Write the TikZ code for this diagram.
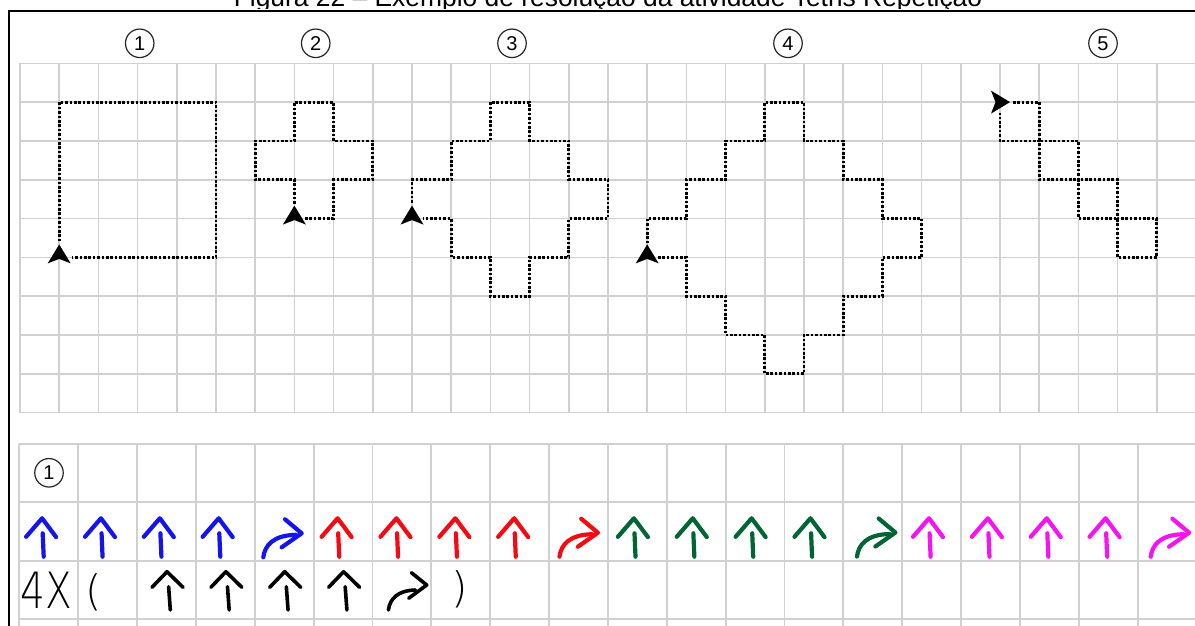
\documentclass[tikz,border=0pt]{standalone}
\usepackage{fontspec}
\setmainfont{Liberation Sans}
\newfontfamily\handfont{DejaVu Sans ExtraLight}
\definecolor{gridgray}{RGB}{208,208,208}
\definecolor{penblue}{RGB}{20,20,238}
\definecolor{penred}{RGB}{245,10,20}
\definecolor{pengreen}{RGB}{0,100,52}
\definecolor{penmag}{RGB}{245,20,240}
\tikzset{
  gridline/.style={draw=gridgray, line width=1.5pt},
  tabline/.style={draw=gridgray, line width=1.8pt},
  dotline/.style={draw=black, line width=2.8pt, dash pattern=on 2.6pt off 1.8pt},
  numcirc/.style={circle, draw=black!85, line width=1.2pt, minimum size=28.5pt,
    inner sep=0pt, font=\fontsize{20}{20}\selectfont},
  handstroke/.style={line width=4.2pt, line cap=round, line join=round},
  blkstroke/.style={line width=3.6pt, line cap=round, line join=round},
  navarrow/.pic={\fill[x=1pt,y=-1pt] (0,-13) -- (11.5,6) -- (0,1.5) -- (-11.5,6) -- cycle;},
  upcol/.pic={\begin{scope}[x=1pt,y=-1pt]
      \draw[handstroke] (-16,18.5) -- (0,0) -- (14,18.8);
      \draw[handstroke] (0.6,15) -- (1.6,38.4);
    \end{scope}},
  upblk/.pic={\begin{scope}[x=1pt,y=-1pt]
      \draw[blkstroke] (-15,15.6) -- (0,0) -- (16,15.6);
      \draw[blkstroke] (1.6,15) -- (3.3,38.3);
    \end{scope}},
  turncol/.pic={\begin{scope}[x=1pt,y=-1pt]
      \draw[handstroke] (0,0) .. controls (1.5,-12) and (10,-22) .. (32.5,-22.5);
      \draw[handstroke] (21.7,-38) -- (38.4,-24) -- (18.4,-10);
    \end{scope}},
  turnblk/.pic={\begin{scope}[x=1pt,y=-1pt]
      \draw[blkstroke] (0,0) .. controls (1.5,-11) and (9,-19.5) .. (27,-20);
      \draw[blkstroke] (23,-37.3) -- (38.3,-25) -- (20.3,-11.7);
    \end{scope}}
}
\begin{document}
\begin{tikzpicture}[x=1pt,y=-1pt]
\useasboundingbox (0,0) rectangle (1195,626);
\clip (0,0) rectangle (1195,626);
\fill[white] (0,0) rectangle (1195,626);

% title (cut at the top)
\begin{scope}
  \clip (0,0) rectangle (1195,9);
  \node[anchor=base, inner sep=0pt, font=\fontsize{26.4}{26.4}\selectfont] (title) at (608,7)
    {Figura 22 – Exemplo de resolução da atividade Tetris Repetição};
\end{scope}

% frame
\draw[line width=2.4pt] (8.7,640) -- (8.7,10.8) -- (1200,10.8);

% circled numbers
\node[numcirc] (c1) at (139.7,43.3) {1};
\node[numcirc] (c2) at (315.7,43.3) {2};
\node[numcirc] (c3) at (512,43.3) {3};
\node[numcirc] (c4) at (788,43.3) {4};
\node[numcirc] (c5) at (1103,43.3) {5};

% top grid and figures
\begin{scope}[shift={(20,63.3)}, x=39.2pt, y=-38.82pt]
  \foreach \c in {0,...,30} \draw[gridline] (\c,0) -- (\c,9);
  \foreach \r in {0,...,9} \draw[gridline] (0,\r) -- (30.5,\r);
  % figure 1
  \draw[dotline, shorten <=16pt, shorten >=13pt]
    (1,5) -- (1,1) -- (5,1) -- (5,5) -- (1,5);
  % figure 2
  \draw[dotline, shorten <=15pt, shorten >=9pt]
    (7,4) -- (7,3) -- (6,3) -- (6,2) -- (7,2) -- (7,1) -- (8,1) -- (8,2) -- (9,2)
    -- (9,3) -- (8,3) -- (8,4) -- (7,4);
  % figure 3
  \draw[dotline, shorten <=16pt, shorten >=11pt]
    (10,4) -- (10,3) -- (11,3) -- (11,2) -- (12,2) -- (12,1) -- (13,1) -- (13,2)
    -- (14,2) -- (14,3) -- (15,3) -- (15,4) -- (14,4) -- (14,5) -- (13,5) -- (13,6)
    -- (12,6) -- (12,5) -- (11,5) -- (11,4) -- (10,4);
  % figure 4
  \draw[dotline, shorten <=14pt, shorten >=10pt]
    (16,5) -- (16,4) -- (17,4) -- (17,3) -- (18,3) -- (18,2) -- (19,2) -- (19,1)
    -- (20,1) -- (20,2) -- (21,2) -- (21,3) -- (22,3) -- (22,4) -- (23,4) -- (23,5)
    -- (22,5) -- (22,6) -- (21,6) -- (21,7) -- (20,7) -- (20,8) -- (19,8) -- (19,7)
    -- (18,7) -- (18,6) -- (17,6) -- (17,5) -- (16,5);
  % figure 5
  \draw[dotline, shorten <=13pt, shorten >=11pt]
    (25,1) -- (26,1) -- (26,2) -- (27,2) -- (27,3) -- (28,3) -- (28,4) -- (29,4)
    -- (29,5) -- (28,5) -- (28,4) -- (27,4) -- (27,3) -- (26,3) -- (26,2) -- (25,2)
    -- (25,1);
  % start markers
  \pic at (1,5) {navarrow};
  \pic at (7,4) {navarrow};
  \pic at (10,4) {navarrow};
  \pic at (16,5) {navarrow};
  \pic[rotate=-90] at ([xshift=-3pt]25,1) {navarrow};
\end{scope}

% bottom table
\foreach \k in {0,...,20} \draw[tabline] ({19.3+58.86*\k},444) -- ({19.3+58.86*\k},630);
\foreach \y in {444,501.7,560.7,619} \draw[tabline] (19.3,\y) -- (1200,\y);

\node[numcirc] (b1) at (49,472.8) {1};

% row of coloured commands
\foreach \k in {0,...,3} \pic[penblue] at ({19.3+58.86*\k+22.8},518.3) {upcol};
\pic[penblue] at (263.3,557.3) {turncol};
\foreach \k in {5,...,8} \pic[penred] at ({19.3+58.86*\k+24},518.3) {upcol};
\pic[penred] at (559.5,556.7) {turncol};
\foreach \k in {10,...,13} \pic[pengreen] at ({19.3+58.86*\k+26},518.3) {upcol};
\pic[pengreen] at (857,556.5) {turncol};
\foreach \k in {15,...,18} \pic[penmag] at ({19.3+58.86*\k+26.8},518.3) {upcol};
\pic[penmag] at (1150.7,556.7) {turncol};

% row with repetition
\node[anchor=base west, inner sep=0pt, xscale=0.78, font=\handfont\fontsize{50}{50}\selectfont] (rep) at (20.5,608.3) {4X};
\node[inner sep=0pt, font=\handfont\fontsize{42}{42}\selectfont] (lpar) at (94,592) {(};
\foreach \k in {2,...,5} \pic at ({19.3+58.86*\k+30},571.7) {upblk};
\pic at (388.4,610) {turnblk};
\node[inner sep=0pt, font=\handfont\fontsize{42}{42}\selectfont] (rpar) at (460,589) {)};
\end{tikzpicture}
\end{document}
